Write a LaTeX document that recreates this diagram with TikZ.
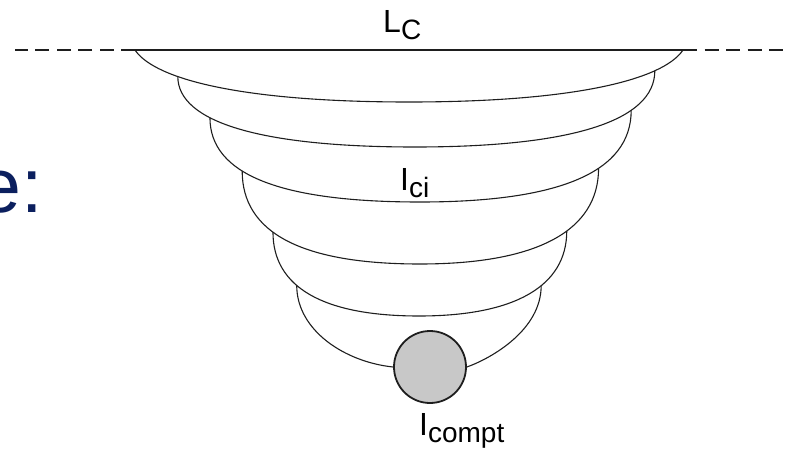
\documentclass[tikz,border=0pt]{standalone}
\usepackage{fontspec}
\setmainfont{Liberation Sans}
\usetikzlibrary{calc}
\definecolor{SlideNavy}{HTML}{0B1F5E}
\definecolor{InkGrey}{HTML}{1E1E1E}
\definecolor{BallGrey}{HTML}{C8C8C8}
\newcommand\sublbl[2]{#1\raisebox{-7pt}{\fontsize{28}{28}\selectfont #2}}

\begin{document}
\begin{tikzpicture}[x=1pt,y=-1pt,
  lamella/.style={draw=InkGrey,line width=1.1pt},
  surface/.style={draw=InkGrey,line width=1.4pt},
  vapour/.style={surface,dash pattern=on 14pt off 7.5pt},
  termtext/.style={anchor=base west,inner sep=0pt,font=\fontsize{32}{32}\selectfont},
  ball/.style={circle,draw=InkGrey,fill=BallGrey,line width=1.8pt,minimum size=72pt,inner sep=0pt}
]
\useasboundingbox (0,0) rectangle (790,452);
\node[ball] (ball) at (430,367) {};
\coordinate (rimL) at (135,50);
\coordinate (rimR) at (683,50);
\coordinate (edgeL) at (15,50);
\coordinate (edgeR) at (790,50);
% liquid surface
\draw[surface] (rimL) -- (rimR);
\draw[vapour] (rimL) -- (edgeL);
\draw[vapour] (rimR) -- (edgeR);
% lamellae, outer to inner
\draw[lamella] (rimL) .. controls (155,80) and (245,102) .. (409,102) coordinate[pos=0.33] (l2)
  .. controls (573,102) and (663,80) .. (rimR) coordinate[pos=0.75] (r2);
\draw[lamella] (l2) .. controls ($(l2)+(0,45)$) and (259,147) .. (415,147) coordinate[pos=0.365] (l3)
  .. controls (572,147) and ($(r2)+(0,50)$) .. (r2) coordinate[pos=0.69] (r3);
\draw[lamella] (l3) .. controls ($(l3)+(0,57)$) and (281,202) .. (420,202) coordinate[pos=0.39] (l4)
  .. controls (559,202) and ($(r3)+(0,62)$) .. (r3) coordinate[pos=0.61] (r4);
\draw[lamella] (l4) .. controls ($(l4)+(0,62)$) and (302,264) .. (420,264) coordinate[pos=0.415] (l5)
  .. controls (538,264) and ($(r4)+(0,62)$) .. (r4) coordinate[pos=0.58] (r5);
\draw[lamella] (l5) .. controls ($(l5)+(0,55)$) and (323,316) .. (419,316) coordinate[pos=0.40] (l6)
  .. controls (515,316) and ($(r5)+(0,55)$) .. (r5) coordinate[pos=0.59] (r6);
\draw[lamella] (l6) .. controls ($(l6)+(0,45)$) and (345,362) .. (ball.west);
\draw[lamella] (ball.east) .. controls (492,358) and ($(r6)+(0,44)$) .. (r6);
% labels
\node[termtext] (Lc) at (383,33) {\sublbl{L}{C}};
\node[termtext] (Ici) at (400,190) {\sublbl{I}{ci}};
\node[termtext] (Icompt) at (419,435) {\sublbl{I}{compt}};
\node[anchor=base west,inner sep=0pt,text=SlideNavy,font=\fontsize{77}{77}\selectfont] (cue) at (-22,212) {e:};
\end{tikzpicture}
\end{document}
